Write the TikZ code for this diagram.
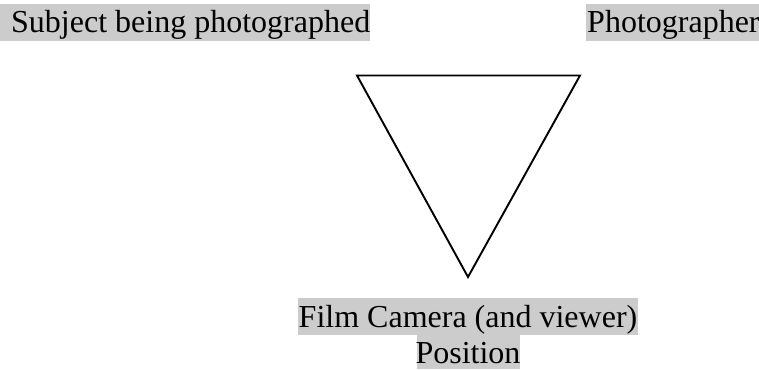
\documentclass[tikz,border=0pt]{standalone}
\usepackage{fontspec}
\setmainfont{Liberation Serif}
\definecolor{hl}{RGB}{204,204,204}
\tikzset{
  lbl/.style={inner sep=0pt, font=\fontsize{32pt}{36.8pt}\selectfont},
  hlfill/.style={fill=hl},
  tri/.style={draw=black, line width=1.9pt, line join=miter}
}
\begin{document}
\begin{tikzpicture}[x=1pt,y=-1pt]
\useasboundingbox (0,0) rectangle (759,369);
% highlight boxes
\fill[hlfill] (0,4) rectangle (370,40.7);
\fill[hlfill] (585.7,4) rectangle (759,40.7);
\fill[hlfill] (298,298) rectangle (638,335);
\fill[hlfill] (416.7,335) rectangle (520,369);
% labels
\node[lbl, anchor=base west] (subject) at (11,33) {Subject being photographed};
\node[lbl, anchor=base west] (photographer) at (587,33) {Photographer};
\node[lbl, anchor=base] (film) at (468,327) {Film Camera (and viewer)};
\node[lbl, anchor=base, text depth=0pt] (position) at (468,363) {Position};
% triangle
\coordinate (tl) at (357,75.5);
\coordinate (tr) at (580,75.5);
\coordinate (bt) at (468,277);
\draw[tri] (tl) -- (tr) -- (bt) -- cycle;
\end{tikzpicture}
\end{document}
